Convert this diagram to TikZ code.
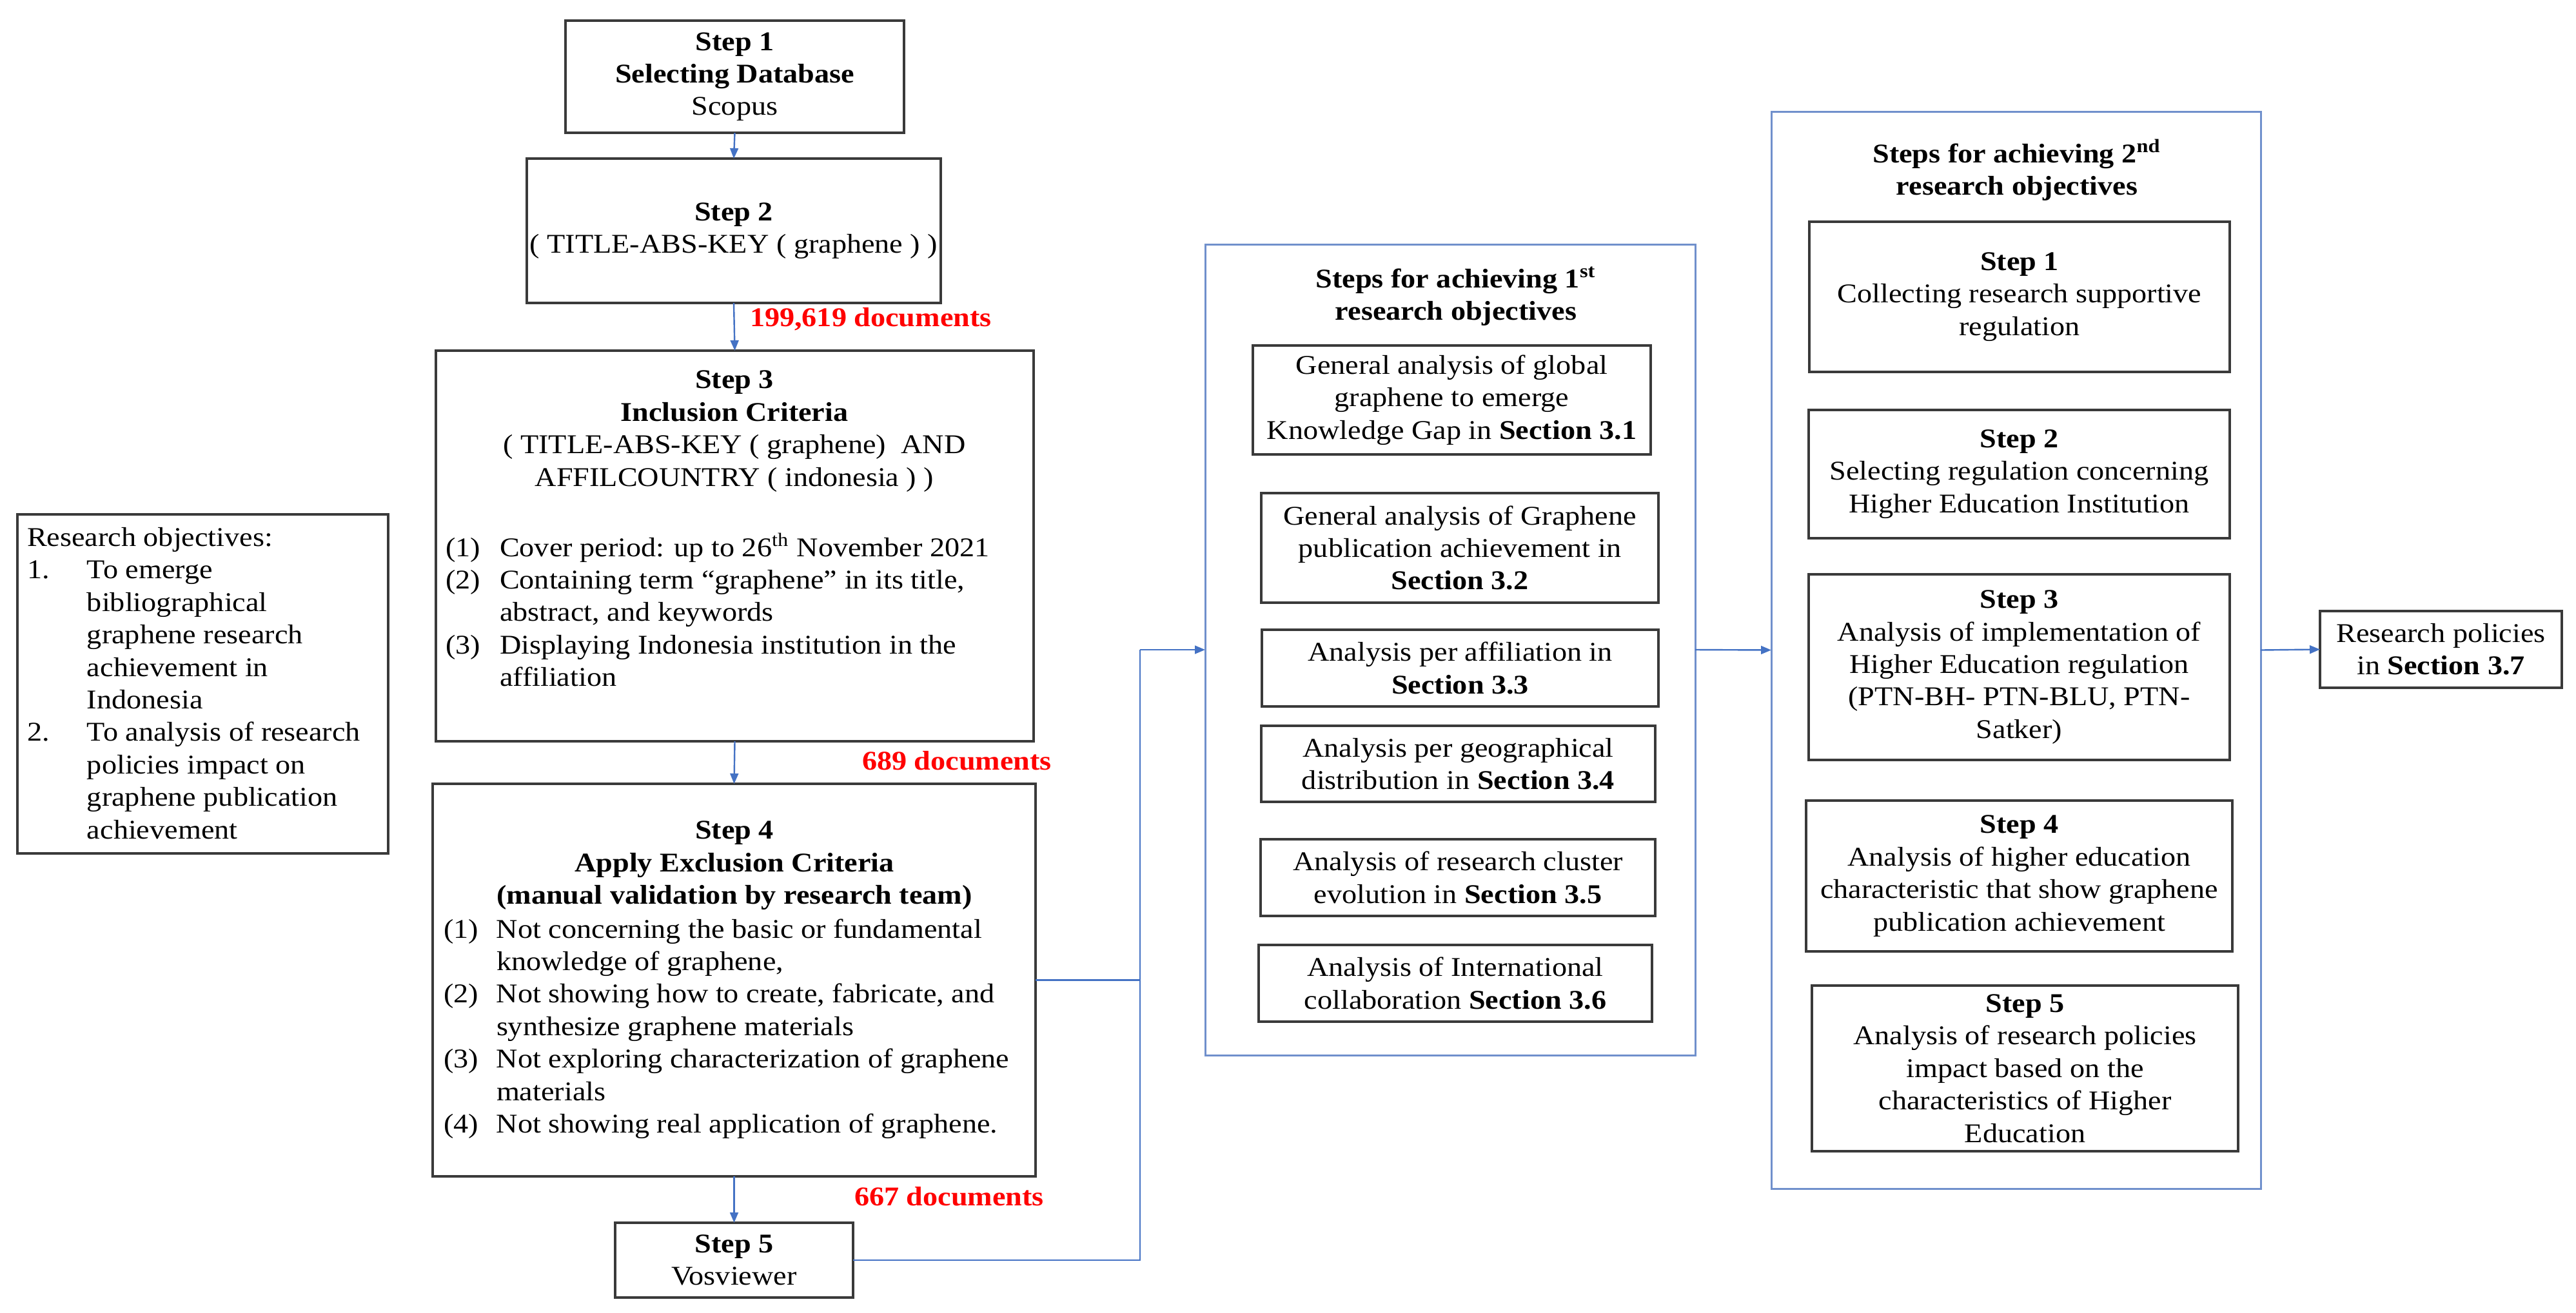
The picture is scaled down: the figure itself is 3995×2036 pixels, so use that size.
\documentclass[tikz,border=0pt]{standalone}
\usepackage{fontspec}
\setmainfont[FakeStretch=1.1]{Liberation Serif}
\usetikzlibrary{arrows.meta}
\definecolor{lnblue}{HTML}{4472C4}
\definecolor{boxblue}{HTML}{7090CC}
\definecolor{bxgray}{HTML}{3A3A3A}
\definecolor{docred}{HTML}{FF0000}
\newlength\pxu
\setlength\pxu{0.25pt}
\begin{document}
\begin{tikzpicture}[x=0.25pt,y=-0.25pt,
  every node/.style={inner sep=0pt, outer sep=0pt, font=\fontsize{10.5}{12.6}\selectfont},
  sz/.style 2 args={minimum width=#1\pxu, minimum height=#2\pxu},
  blk/.style={draw=bxgray, line width=0.8pt, fill=white, align=center},
  bluebox/.style={draw=boxblue, line width=0.75pt, fill=white},
  txt/.style={align=center},
  lst/.style={align=left, anchor=west},
  doc/.style={text=docred, font=\fontsize{10.5}{12.6}\selectfont\bfseries, anchor=west},
  conn/.style={draw=lnblue, line width=0.6pt},
  arr/.style={conn, -{Triangle[length=4pt,width=3.2pt]}}
]
\useasboundingbox (0,0) rectangle (3995,2036);
\fill[white] (0,0) rectangle (3995,2036);

% ---------- left column ----------
\node[blk, sz={525}{174}] (s1) at (1139.5,119) {\textbf{Step 1}\\\textbf{Selecting Database}\\Scopus};
\node[blk, sz={642}{224}] (s2) at (1138,358) {\textbf{Step 2}\\( TITLE-ABS-KEY ( graphene ) )};
\node[blk, sz={927}{606}] (s3) at (1139.5,847) {};
\node[txt] (s3h) at (1139,669) {\textbf{Step 3}\\\textbf{Inclusion Criteria}\\( TITLE-ABS-KEY ( graphene)\ \ AND\\AFFILCOUNTRY ( indonesia ) )};
\node[lst] (s3l) at (691,946) {\makebox[84\pxu][l]{(1)}Cover period: up to 26\textsuperscript{th} November 2021\\
\makebox[84\pxu][l]{(2)}Containing term “graphene” in its title,\\
\hspace*{84\pxu}abstract, and keywords\\
\makebox[84\pxu][l]{(3)}Displaying Indonesia institution in the\\
\hspace*{84\pxu}affiliation};

\node[blk, sz={935}{609}] (s4) at (1138.5,1520.5) {};
\node[txt, font=\fontsize{10.5}{12.6}\selectfont\bfseries] (s4h) at (1139,1343) {Step 4\\Apply Exclusion Criteria\\(manual validation by research team)};
\node[lst] (s4l) at (688,1596) {\makebox[82\pxu][l]{(1)}Not concerning the basic or fundamental\\
\hspace*{82\pxu}knowledge of graphene,\\
\makebox[82\pxu][l]{(2)}Not showing how to create, fabricate, and\\
\hspace*{82\pxu}synthesize graphene materials\\
\makebox[82\pxu][l]{(3)}Not exploring characterization of graphene\\
\hspace*{82\pxu}materials\\
\makebox[82\pxu][l]{(4)}Not showing real application of graphene.};

\node[blk, sz={369}{116}] (s5) at (1138.5,1955) {\textbf{Step 5}\\Vosviewer};

\node[doc] (d1) at (1163,495) {199,619 documents};
\node[doc] (d2) at (1337,1180) {689 documents};
\node[doc] (d3) at (1325,1856) {667 documents};

% research objectives
\node[blk, sz={575}{526}] (ro) at (314.5,1061) {};
\node[lst] (rol) at (42,1060) {Research objectives:\\
\makebox[93\pxu][l]{1.}To emerge\\
\hspace*{93\pxu}bibliographical\\
\hspace*{93\pxu}graphene research\\
\hspace*{93\pxu}achievement in\\
\hspace*{93\pxu}Indonesia\\
\makebox[93\pxu][l]{2.}To analysis of research\\
\hspace*{93\pxu}policies impact on\\
\hspace*{93\pxu}graphene publication\\
\hspace*{93\pxu}achievement};

% ---------- middle box ----------
\node[bluebox, sz={760}{1258}] (mid) at (2249,1008) {};
\node[txt, font=\fontsize{10.5}{12.6}\selectfont\bfseries] (midt) at (2258,460) {Steps for achieving 1\textsuperscript{st}\\research objectives};
\node[blk, sz={617}{169}] (ma) at (2251.5,620.5) {General analysis of global\\graphene to emerge\\Knowledge Gap in \textbf{Section 3.1}};
\node[blk, sz={616}{170}] (mb) at (2264,850) {General analysis of Graphene\\publication achievement in\\\textbf{Section 3.2}};
\node[blk, sz={615}{119}] (mc) at (2264.5,1036.5) {Analysis per affiliation in\\\textbf{Section 3.3}};
\node[blk, sz={611}{118}] (md) at (2261.5,1185) {Analysis per geographical\\distribution in \textbf{Section 3.4}};
\node[blk, sz={612}{119}] (me) at (2261,1361.5) {Analysis of research cluster\\evolution in \textbf{Section 3.5}};
\node[blk, sz={610}{119}] (mf) at (2257,1525.5) {Analysis of International\\collaboration \textbf{Section 3.6}};

% ---------- right box ----------
\node[bluebox, sz={759}{1671}] (rt) at (3126.5,1008.5) {};
\node[txt, font=\fontsize{10.5}{12.6}\selectfont\bfseries] (rtt) at (3128,264) {Steps for achieving 2\textsuperscript{nd}\\research objectives};
\node[blk, sz={652}{233}] (r1) at (3132,460.5) {\textbf{Step 1}\\Collecting research supportive\\regulation};
\node[blk, sz={653}{199}] (r2) at (3131.5,735.5) {\textbf{Step 2}\\Selecting regulation concerning\\Higher Education Institution};
\node[blk, sz={653}{288}] (r3) at (3131.5,1035) {\textbf{Step 3}\\Analysis of implementation of\\Higher Education regulation\\(PTN-BH- PTN-BLU, PTN-\\Satker)};
\node[blk, sz={661}{234}] (r4) at (3131.5,1359) {\textbf{Step 4}\\Analysis of higher education\\characteristic that show graphene\\publication achievement};
\node[blk, sz={661}{257}] (r5) at (3140.5,1657.5) {\textbf{Step 5}\\Analysis of research policies\\impact based on the\\characteristics of Higher\\Education};

\node[blk, sz={375}{119}] (rp) at (3785.5,1007.5) {Research policies\\in \textbf{Section 3.7}};

% ---------- connectors ----------
\draw[arr] (s1.south) -- (s2.north);
\draw[arr] (s2.south) -- (s3.north);
\draw[arr] (s3.south) -- (s4.north);
\draw[arr] (s4.south) -- (s5.north);
\coordinate (jn) at (1768,1008);
\draw[conn] (s4.east) -- (s4.east -| jn);
\draw[conn] (s5.east) -| (jn);
\draw[arr] (jn) -- (mid.west);
\draw[arr] (mid.east) -- (rt.west);
\draw[arr] (rt.east) -- (rp.west);
\end{tikzpicture}
\end{document}
